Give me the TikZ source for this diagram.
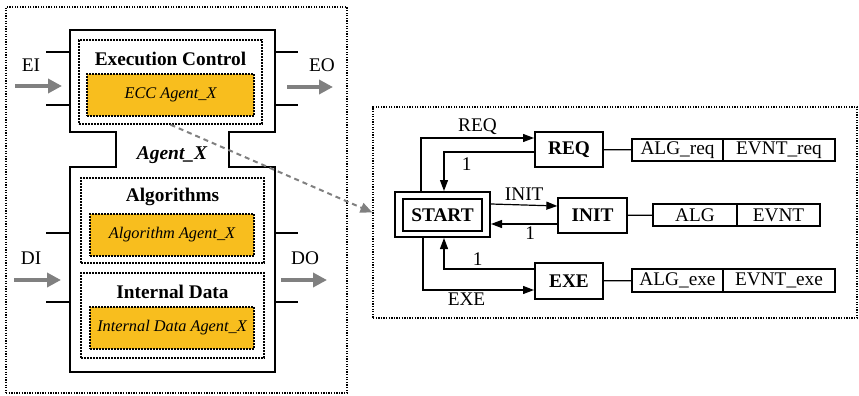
\documentclass[tikz,border=0pt]{standalone}
\usepackage{fontspec}
\setmainfont{Liberation Serif}
\usetikzlibrary{arrows.meta,positioning}
\definecolor{eccorange}{RGB}{248,190,30}
\definecolor{portgray}{RGB}{128,128,128}
\newcommand{\fsz}[1]{\fontsize{#1}{#1}\selectfont}

\begin{document}
\begin{tikzpicture}[x=1pt, y=-1pt,
    frame/.style={rectangle, draw, line width=1.2pt, dash pattern=on 1.3pt off 1.3pt},
    dotbox/.style={rectangle, draw, line width=1.4pt, dash pattern=on 1.6pt off 1.4pt},
    eccbox/.style={rectangle, draw, fill=eccorange, line width=1.2pt,
                   dash pattern=on 1.6pt off 1.4pt, font=\fsz{16.3}\itshape, inner sep=0pt},
    title/.style={font=\fsz{19.3}\bfseries, inner sep=0pt},
    lbl/.style={font=\fsz{19.3}, inner sep=2.5pt},
    state/.style={rectangle, draw, line width=2pt, font=\fsz{19.3}\bfseries, inner sep=0pt,
                  minimum height=35},
    cell/.style={rectangle, draw, line width=1.2pt, font=\fsz{19.3}, inner sep=0pt,
                 minimum height=22},
    arrow/.style={-{Triangle[length=11pt,width=8pt]}, line width=1.2pt},
    port/.style={-{Triangle[length=14pt,width=14pt]}, line width=3.5pt, color=portgray},
    stub/.style={line width=1.3pt}
  ]
    \useasboundingbox (0,0) rectangle (859,396);

    % left part: the agent
    \node[frame, minimum width=341, minimum height=386] (agentfrm) at (176.5,200) {};
    \draw[line width=2.2pt] (70,30) -- (275,30) -- (275,132) -- (229,132) -- (229,167)
      -- (275,167) -- (275,372) -- (70,372) -- (70,167) -- (116,167) -- (116,132)
      -- (70,132) -- cycle;

    \node[dotbox, minimum width=183, minimum height=84] (ec) at (170.5,82) {};
    \node[title] (ectitle) at (170.5,59) {Execution Control};
    \node[eccbox, minimum width=167, minimum height=42] (ecc) at (170.5,95) {ECC Agent\_X};

    \node[font=\fsz{19.5}\bfseries\itshape, inner sep=0pt] (agentx) at (172,155) {Agent\_X};

    \node[dotbox, minimum width=183, minimum height=85] (alg) at (172.5,220.5) {};
    \node[title] (algtitle) at (172.5,197) {Algorithms};
    \node[eccbox, minimum width=164, minimum height=42] (algx) at (172,235) {Algorithm Agent\_X};

    \node[dotbox, minimum width=183, minimum height=85] (data) at (172.5,315.5) {};
    \node[title] (datatitle) at (172.5,292) {Internal Data};
    \node[eccbox, minimum width=164, minimum height=42] (datax) at (172,328) {Internal Data Agent\_X};

    % ports
    \foreach \y in {52,105,233,302} {
      \draw[stub] (46,\y) -- (70,\y);
      \draw[stub] (275,\y) -- (298,\y);
    }
    \coordinate (eiA) at (15,86);   \coordinate (eiB) at (62,86);
    \coordinate (eoA) at (287,87);  \coordinate (eoB) at (333,87);
    \coordinate (diA) at (14,280);  \coordinate (diB) at (61,280);
    \coordinate (doA) at (281,280); \coordinate (doB) at (327,280);
    \draw[port] (eiA) -- (eiB);
    \draw[port] (eoA) -- (eoB);
    \draw[port] (diA) -- (diB);
    \draw[port] (doA) -- (doB);
    \node[lbl] (ei) at (31,65) {EI};
    \node[lbl] (eo) at (322,65) {EO};
    \node[lbl] (di) at (31,258) {DI};
    \node[lbl] (do) at (305,258) {DO};

    % right part: the ECC
    \node[frame, minimum width=484, minimum height=211] (eccfrm) at (615,212.5) {};

    \node[rectangle, draw, line width=2pt, minimum width=95, minimum height=45] (startout) at (442.5,214.5) {};
    \node[state, line width=1.6pt, minimum width=79, minimum height=32] (start) at (442.5,215) {START};
    \node[state, minimum width=68] (req) at (569,149.5) {REQ};
    \node[state, line width=1.3pt, minimum width=69] (init) at (592.5,215.5) {INIT};
    \node[state, minimum width=68, minimum height=36] (exe) at (569,281) {EXE};

    \node[cell, minimum width=91] (algreq) at (677.5,150) {ALG\_req};
    \node[cell, minimum width=112] (evntreq) at (779,150) {EVNT\_req};
    \node[cell, minimum width=84] (alginit) at (695,215) {ALG};
    \node[cell, minimum width=83] (evntinit) at (778.5,215) {EVNT};
    \node[cell, minimum width=91, minimum height=23] (algexe) at (677.5,280.5) {ALG\_exe};
    \node[cell, minimum width=112, minimum height=23] (evntexe) at (779,280.5) {EVNT\_exe};

    \draw[stub] (req) -- (algreq);
    \draw[stub] (init) -- (alginit);
    \draw[stub] (exe) -- (algexe);

    \draw[arrow] ([xshift=-21.5pt]startout.north) |- ([yshift=11.5pt]req.west)
      node[lbl, pos=0.75, above] {REQ};
    \draw[arrow] ([yshift=-2.5pt]req.west) -| ([xshift=1.5pt]startout.north)
      node[lbl, pos=0.374, below, yshift=-3pt] {1};
    \draw[arrow] ([yshift=10.5pt]startout.east) -- ([yshift=9.5pt]init.west)
      node[lbl, midway, above, yshift=1pt] {INIT};
    \draw[arrow] ([yshift=-8.5pt]init.west) -- ([yshift=-8.5pt]init.west -| startout.east)
      node[lbl, pos=0.41, below] {1};
    \draw[arrow] ([yshift=12pt]exe.west) -| ([xshift=1.5pt]startout.south)
      node[lbl, pos=0.313, above] {1};
    \draw[arrow] ([xshift=-19.5pt]startout.south) |- ([yshift=-9pt]exe.west)
      node[lbl, pos=0.696, below] {EXE};

    % link between the two parts
    \draw[-{Triangle[length=12pt,width=10pt]}, line width=2pt, portgray,
      dash pattern=on 5pt off 4pt] (ec.south) -- (eccfrm.west);
  \end{tikzpicture}
\end{document}
